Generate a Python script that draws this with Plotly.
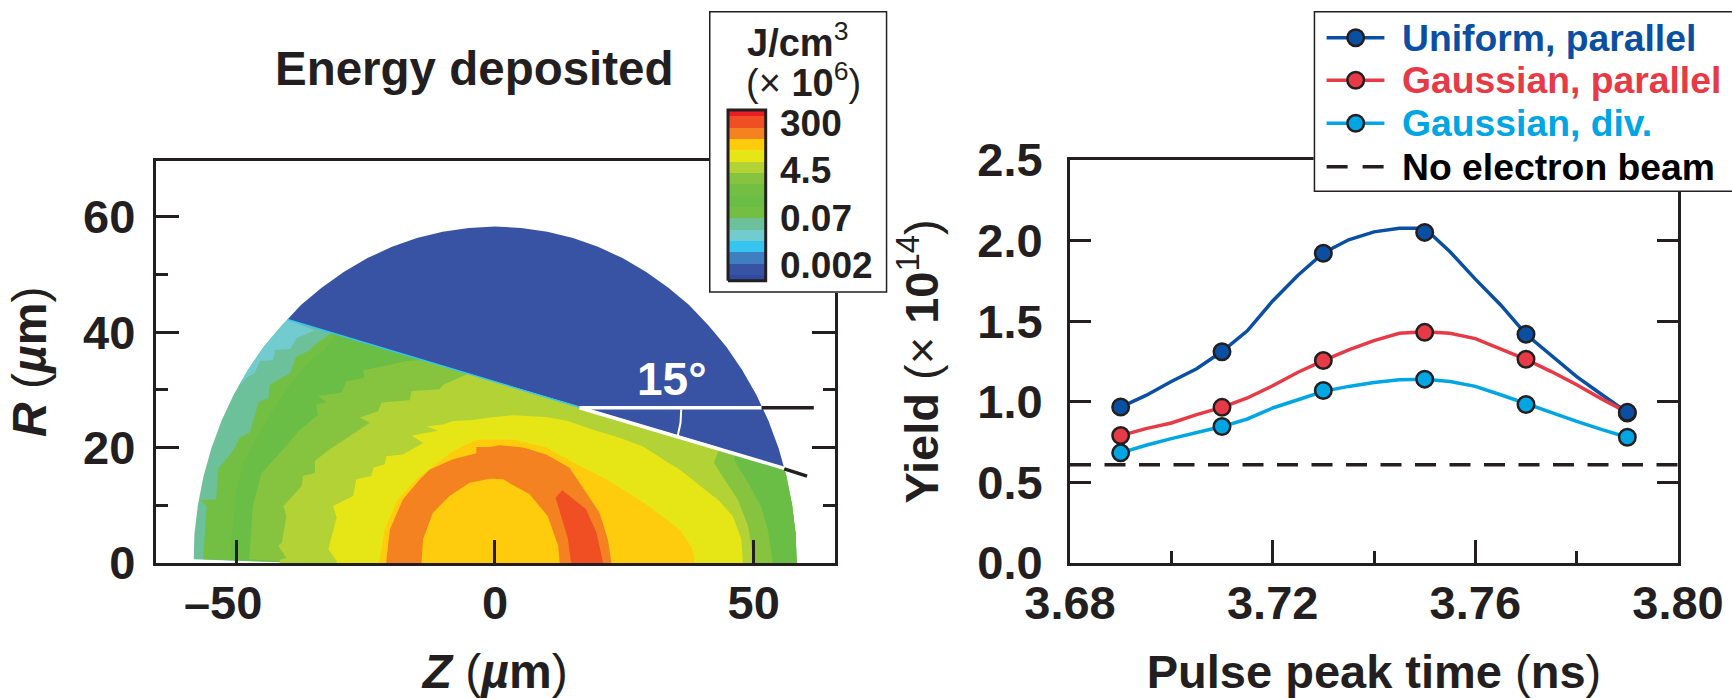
import plotly.graph_objects as go
from itertools import accumulate

W, H = 1732, 698
FONT = "Liberation Sans"
INK = "#231F20"

# ---------- left panel: energy-deposited regions, as read (Z, R) in um ----------
blue_region = [(55.9,16.4),(54.8,19.9),(52.84,24.64),(50.5,29.15),(47.76,33.44),(44.7,37.5),
               (41.22,41.22),(37.5,44.7),(33.44,47.76),(29.15,50.5),(24.64,52.84),(19.9,54.8),(15.09,56.31),
               (10.1,57.4),(5.08,58.08),(0,58.3),(-5.08,58.08),(-10.1,57.4),(-15.09,56.31),(-19.9,54.8),
               (-24.64,52.84),(-29.15,50.5),(-33.44,47.76),(-37.5,44.7),(-40.1,42.2)]
teal_region = [(-40.1,42.2),(-44.7,37.5),(-47.76,33.44),(-50.5,29.15),(-52.84,24.64),(-54.8,19.9),(-56.31,15.09),
               (-57.4,10.1),(-58.08,5.08),(-58.2,0.65),(-37,0),(58.3,0),(58.08,5.08),(57.4,10.1),(56.31,15.09),(55.9,16.4)]
lightteal_region = [(-40.1,42.2),(-34.8,40.3),(-38.3,39.0),(-39.6,37.1),(-42.5,36.9),(-42.9,35.2),(-45.4,35.0),
                    (-46.4,33.0),(-48.0,32.1),(-49.6,30.6),(-47.76,33.44),(-44.7,37.5),(-41.22,41.22)]
green2_region = [(-31.6,39.9),(-34.8,37.8),(-36.1,36.7),(-38.4,35.8),(-39.6,32.9),(-43.5,30.9),(-43.8,28.6),
                 (-45.7,27.8),(-47.4,22.6),(-49.3,21.7),(-50.9,19.1),(-53.5,16.3),(-53.9,11.0),(-57.0,10.9),
                 (-55.7,9.9),(-56.4,0.65),(-37,0),(58.3,0),(58.08,5.08),(57.4,10.1),(56.31,15.09),(55.9,16.4)]
green3_region = [(-30.8,39.7),(-33.2,36.7),(-36.4,34.4),(-39.6,30.9),(-42.8,26.6),(-45.7,22.3),(-48.6,17.4),
                 (-50.2,11.6),(-51.2,0.65),(-37,0),(58.3,0),(58.08,5.08),(57.4,10.1),(56.31,15.09),(55.9,16.4)]
green1_region = [(-13.9,35.2),(-17.1,35.0),(-21.6,34.1),(-25.5,33.4),(-25.2,32.1),(-28.7,31.5),(-29.7,29.5),
                 (-34.2,29.0),(-32.6,27.8),(-34.6,27.5),(-34.2,25.7),(-37.7,23.1),(-41.2,19.4),(-45.1,15.6),
                 (-46.8,9.9),(-47.5,0.65),(-37,0),(53.7,0),(52.7,5.8),(51.4,9.9),(48.5,14.5),(46.3,17.7),(46.3,19.0)]
yellowgreen_region = [(-5.2,32.8),(-10.0,30.9),(-10.7,30.1),(-16.1,29.8),(-16.5,28.2),(-21.9,27.8),(-22.6,26.3),
                      (-26.1,25.2),(-24.2,24.3),(-30.0,20.8),(-31.9,19.7),(-34.8,17.7),(-34.8,15.6),(-37.1,15.1),
                      (-37.4,13.3),(-40.9,9.9),(-40.3,8.1),(-41.2,3.5),(-41.9,3.0),(-40.3,0.9),(-41.6,0.5),(-41.6,0),
                      (50.1,0),(48.9,6.4),(46.9,11.0),(44.0,15.0),(42.3,17.4),(43.4,20.0)]
yellow_region = [(-1.0,25.2),(-4.2,24.8),(-8.1,24.6),(-10.0,24.0),(-13.2,23.7),(-11.0,22.9),(-16.1,22.1),(-13.9,20.8),
                 (-17.8,18.8),(-21.0,18.5),(-21.3,17.1),(-23.5,16.5),(-23.9,15.1),(-26.8,14.5),(-27.4,11.6),(-31.3,9.9),
                 (-30.6,7.9),(-32.2,2.4),(-30.6,0.4),(-30.6,0),(47.9,0),(47.6,4.1),(45.96,8.1),(43.4,10.7),(38.9,13.9),
                 (35.7,16.2),(33.1,17.6),(28.6,20.2),(24.1,21.7),(18.9,23.1),(14.1,24.6),(9.9,25.3),(3.5,25.6)]
amber_region = [(38.6,0),(38.2,2.4),(35.7,5.8),(29.2,10.2),(21.5,14.5),(15.1,17.4),(9.9,20.0),(3.5,21.4),(-2.95,21.4),
                (-4.2,21.1),(-8.1,19.4),(-12.6,16.2),(-15.2,14.5),(-19.0,10.7),(-21.3,5.8),(-22.3,0.4),(-22.6,0)]
orange_region = [(-21.0,0),(-21.0,0.4),(-20.3,5.8),(-17.8,11.0),(-14.5,14.5),(-12.6,16.2),(-8.1,18.0),(-3.6,19.0),
                 (-3.6,20.1),(-1.0,20.1),(0.9,20.4),(5.4,20.0),(9.9,18.8),(14.4,16.5),(17.6,12.2),(20.2,8.7),(21.8,4.1),(22.5,0)]
core_region = [(-14.2,0),(-13.9,4.1),(-12.0,8.7),(-8.8,11.6),(-4.9,13.9),(-1.0,14.6),(1.55,14.5),(6.7,11.9),(10.2,8.1),
               (12.2,3.0),(12.5,0)]
redorange_region = [(14.7,0),(14.1,4.1),(12.8,8.1),(11.7,11.3),(13.0,12.6),(15.7,10.7),(17.6,9.3),(19.6,5.3),(20.9,0)]

interface_z = [-40.1, 16.35]
interface_r = [42.2, 27.0]
angle_flat_z = [16.35, 51.6]
angle_flat_r = [26.9, 26.9]
angle_slant_z = [16.35, 55.9]
angle_slant_r = [26.9, 16.4]
angle_arc_z = [35.98, 35.85, 35.3]
angle_arc_r = [26.6, 24.3, 22.0]
ext_flat_z = [51.5, 61.6]
ext_flat_r = [26.9, 26.9]
ext_slant_z = [55.9, 60.3]
ext_slant_r = [16.3, 15.05]

# ---------- colour scale ----------
scale_colors = ["#2F4A9E","#3953A4","#3F7FBF","#35C5F0","#72CBCE","#6CC19B","#72BF44","#6ABD45","#72BF44",
                "#86C440","#B2D235","#E6E617","#FFCB0D","#F58220","#F04E23","#ED1C24"]
scale_steps = [0.5] + [1.0]*14 + [0.56]
scale_labels = ["0.002", "0.07", "4.5", "300"]
scale_label_levels = [1.32, 5.5, 9.7, 13.85]

# ---------- right panel ----------
peak_times = [3.69, 3.71, 3.73, 3.75, 3.77, 3.79]
uniform_pts = [0.967, 1.31, 1.92, 2.05, 1.418, 0.934]
gauss_pts = [0.79, 0.965, 1.255, 1.43, 1.263, 0.93]
div_pts = [0.683, 0.846, 1.07, 1.14, 0.983, 0.78]
curve_times = [3.69,3.695,3.70,3.705,3.71,3.715,3.72,3.725,3.73,3.735,3.74,3.745,3.75,3.755,3.76,3.765,3.77,3.775,3.78,3.785,3.79]
uniform_curve = [.967,1.039,1.125,1.204,1.311,1.44,1.625,1.784,1.922,2.004,2.053,2.076,2.076,1.93,1.76,1.60,1.418,1.29,1.156,1.043,.934]
gauss_curve = [.79,.833,.868,.92,.965,1.023,1.099,1.183,1.255,1.321,1.379,1.424,1.434,1.424,1.391,1.325,1.263,1.187,1.105,1.016,.934]
div_curve = [.683,.730,.771,.811,.846,.893,.961,1.012,1.064,1.095,1.119,1.136,1.14,1.125,1.095,1.043,.988,.93,.878,.827,.78]
baseline_t = [3.68, 3.80]
baseline_y = [0.609, 0.609]
BLUE, RED, CYAN = "#0B4FA3", "#E63A46", "#00A5E3"

legend_labels = ["Uniform, parallel", "Gaussian, parallel", "Gaussian, div.", "No electron beam"]
legend_colors = [BLUE, RED, CYAN, "#000000"]
legend_rows = [26.7, 69.3, 112.3, 155.7]

fig = go.Figure()

def region(pts, color):
    fig.add_trace(go.Scatter(x=[p[0] for p in pts], y=[p[1] for p in pts], mode="lines", fill="toself",
                             fillcolor=color, line=dict(width=0, color=color), hoverinfo="skip",
                             showlegend=False, xaxis="x", yaxis="y"))

def stroke(xs, ys, color, width, ax=("x", "y"), dash=None, name=None):
    fig.add_trace(go.Scatter(x=xs, y=ys, mode="lines", line=dict(color=color, width=width, dash=dash),
                             hoverinfo="skip", showlegend=False, name=name, xaxis=ax[0], yaxis=ax[1]))

for pts, color in [(blue_region, "#3953A4"), (teal_region, "#6CC19B"), (lightteal_region, "#72CBCE"),
                   (green2_region, "#72BF44"), (green3_region, "#6ABD45"), (green1_region, "#86C440"),
                   (yellowgreen_region, "#B2D235"), (yellow_region, "#E6E617"), (amber_region, "#FFCB0D"),
                   (orange_region, "#F58220"), (core_region, "#FFCB0D"), (redorange_region, "#F04E23")]:
    region(pts, color)
stroke(interface_z, interface_r, "#35C5F0", 1.5)
stroke(angle_flat_z, angle_flat_r, "white", 3.5)
stroke(angle_slant_z, angle_slant_r, "white", 3.5)
stroke(angle_arc_z, angle_arc_r, "white", 2)
stroke(ext_flat_z, ext_flat_r, INK, 3.5)
stroke(ext_slant_z, ext_slant_r, INK, 3.5)

# right panel
stroke(baseline_t, baseline_y, INK, 3.5, ("x2", "y2"), dash="21px,13.5px", name=legend_labels[3])
for curve, color, label in [(uniform_curve, BLUE, legend_labels[0]), (gauss_curve, RED, legend_labels[1]),
                            (div_curve, CYAN, legend_labels[2])]:
    stroke(curve_times, curve, color, 3.5, ("x2", "y2"), name=label)
for pts, color, label in [(gauss_pts, RED, legend_labels[1]), (div_pts, CYAN, legend_labels[2]),
                          (uniform_pts, BLUE, legend_labels[0])]:
    fig.add_trace(go.Scatter(x=peak_times, y=pts, mode="markers", hoverinfo="skip", showlegend=False, name=label,
                             marker=dict(size=16.5, color=color, line=dict(color=INK, width=2.5)),
                             xaxis="x2", yaxis="y2"))

# colour-scale box: its own subplot, so it sits over the left frame
fig.add_trace(go.Bar(x=[0.5], y=[24.86], base=[-1.06], width=1, marker=dict(color="white", line=dict(width=0)),
                     hoverinfo="skip", showlegend=False, xaxis="x3", yaxis="y3"))
scale_bases = [0.0] + list(accumulate(scale_steps))[:-1]
for c, h, b in zip(scale_colors, scale_steps, scale_bases):
    fig.add_trace(go.Bar(x=[0.2123], y=[h], base=[b], width=0.2114, marker=dict(color=c, line=dict(width=0)),
                         hoverinfo="skip", showlegend=False, xaxis="x3", yaxis="y3"))
fig.add_trace(go.Scatter(x=[0.1066, 0.318, 0.318, 0.1066, 0.1066], y=[0, 0, 15.06, 15.06, 0], mode="lines",
                         line=dict(color=INK, width=3), hoverinfo="skip", showlegend=False,
                         xaxis="x3", yaxis="y3"))
fig.add_trace(go.Scatter(x=[0, 1, 1, 0, 0], y=[-1.06, -1.06, 23.8, 23.8, -1.06], mode="lines", cliponaxis=False,
                         line=dict(color=INK, width=3), hoverinfo="skip", showlegend=False,
                         xaxis="x3", yaxis="y3"))

# legend box: its own subplot, so it sits over the right frame
fig.add_trace(go.Scatter(x=[0, 430, 430, 0, 0], y=[0, 0, 181, 181, 0], mode="lines", fill="toself", fillcolor="white",
                         cliponaxis=False, line=dict(color=INK, width=3), hoverinfo="skip", showlegend=False,
                         xaxis="x4", yaxis="y4"))
for label, color, row in zip(legend_labels[:3], legend_colors[:3], legend_rows[:3]):
    stroke([12.9, 70.7], [row, row], color, 3.5, ("x4", "y4"), name=label)
    fig.add_trace(go.Scatter(x=[42], y=[row], mode="markers", hoverinfo="skip", showlegend=False, name=label,
                             marker=dict(size=16.5, color=color, line=dict(color=INK, width=2.5)),
                             xaxis="x4", yaxis="y4"))
stroke([12.9, 70.7], [legend_rows[3], legend_rows[3]], INK, 3.5, ("x4", "y4"), dash="21px,15px", name=legend_labels[3])

def xd(a, b):
    return [a / W, b / W]

def yd(top, bottom):
    return [1 - bottom / H, 1 - top / H]

TICK = dict(family=FONT, size=47, color=INK)
axis_common = dict(showline=True, linecolor=INK, linewidth=3, ticks="inside", tickcolor=INK, tickwidth=2.5,
                   showgrid=False, zeroline=False, tickfont=TICK, automargin=False)
annotations = []

def text(x, y, s, size, color=INK, anchor="center"):
    annotations.append(dict(xref="paper", yref="paper", x=x / W, y=1 - y / H, text=s, showarrow=False,
                            xanchor=anchor, yanchor="middle",
                            font=dict(family=FONT, size=size, color=color)))

text(474, 68, "<b>Energy deposited</b>", 47.5)
text(672, 379, "<b>15°</b>", 46, "white")
text(797, 40, "<b>J/cm</b><sup>3</sup>", 38)
text(803, 80, "(× <b>10</b><sup>6</sup>)", 38)
for lab, lev in zip(scale_labels, scale_label_levels):
    text(778, 280.7 - lev * 11.33, f"<b>{lab}</b>", 37, anchor="left")
for lab, col, row in zip(legend_labels, legend_colors, legend_rows):
    text(1400, 11 + row, f"<b>{lab}</b>", 37.3, color=col, anchor="left")

fig.update_layout(
    width=W, height=H, autosize=False, margin=dict(l=0, r=0, t=0, b=0, pad=0),
    paper_bgcolor="white", plot_bgcolor="white", barmode="overlay", bargap=0,
    showlegend=False, annotations=annotations, font=dict(family=FONT, color=INK),
    xaxis=dict(domain=xd(155.8, 834.5), range=[-65.54, 65.6], tickmode="array", tickvals=[-50, 0, 50],
               ticktext=["<b>–50\u00a0\u00a0</b>", "<b>0</b>", "<b>50</b>"], ticklen=23, mirror=True, ticklabelstandoff=-3,
               title=dict(text="<b><i>Z </i></b>(<b><i>µ</i>m</b>)", font=dict(family=FONT, size=48, color=INK), standoff=27),
               **axis_common),
    yaxis=dict(domain=yd(160.5, 563), range=[0, 69.76], tickmode="array", tickvals=[0, 20, 40, 60],
               ticktext=["<b>0</b>", "<b>20</b>", "<b>40</b>", "<b>60</b>"], ticklen=23, mirror="ticks",
               ticklabelstandoff=8,
               minor=dict(tickmode="array", tickvals=[10, 30, 50], ticks="inside", ticklen=12, tickcolor=INK, tickwidth=2.5),
               title=dict(text="<b><i>R </i></b>(<b><i>µ</i>m</b>)", font=dict(family=FONT, size=48, color=INK), standoff=22),
               **axis_common),
    xaxis2=dict(domain=xd(1070, 1678), range=[3.68, 3.80], tickmode="array", tickvals=[3.68, 3.72, 3.76, 3.80],
                ticktext=["<b>3.68</b>", "<b>3.72</b>", "<b>3.76</b>", "<b>3.80</b>"], ticklen=23, mirror=True,
                ticklabelstandoff=-3,
                minor=dict(tickmode="array", tickvals=[3.70, 3.74, 3.78], ticks="inside", ticklen=12, tickcolor=INK, tickwidth=2.5),
                title=dict(text="<b>Pulse peak time </b>(<b>ns</b>)", font=dict(family=FONT, size=47, color=INK), standoff=27),
                anchor="y2", **axis_common),
    yaxis2=dict(domain=yd(159.8, 563), range=[0, 2.5], tickmode="array", tickvals=[0, 0.5, 1.0, 1.5, 2.0, 2.5],
                ticktext=["<b>0.0</b>", "<b>0.5</b>", "<b>1.0</b>", "<b>1.5</b>", "<b>2.0</b>", "<b>2.5</b>"],
                ticklen=21, mirror="ticks", ticklabelstandoff=15,
                title=dict(text="<b>Yield </b>(× <b>10</b><sup>14</sup>)", font=dict(family=FONT, size=47, color=INK), standoff=24),
                anchor="x2", **axis_common),
    xaxis3=dict(domain=xd(709, 887.3), range=[0, 1], visible=False, anchor="y3", fixedrange=True),
    yaxis3=dict(domain=yd(11, 292.7), range=[-1.06, 23.8], visible=False, anchor="x3", fixedrange=True),
    xaxis4=dict(domain=xd(1313.7, 1732), range=[0, 418.3], visible=False, anchor="y4", fixedrange=True),
    yaxis4=dict(domain=yd(11, 192), range=[181, 0], visible=False, anchor="x4", fixedrange=True),
)

fig.write_html("out.html", config={"displayModeBar": False}, post_script="document.body.style.margin='0';")
